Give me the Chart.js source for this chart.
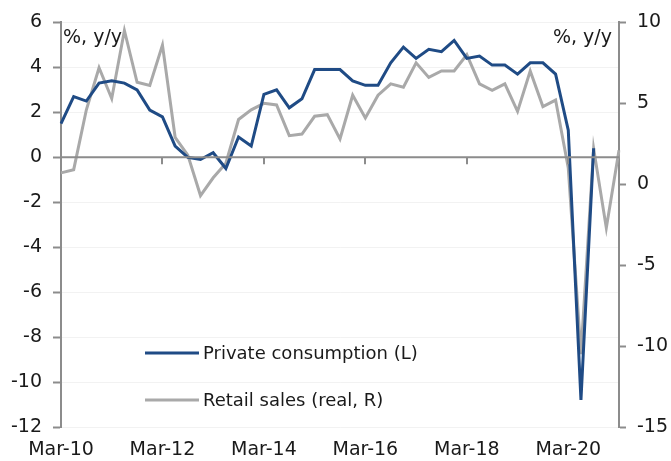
<!DOCTYPE html>
<html>
<head>
<meta charset="utf-8">
<script src="https://cdn.jsdelivr.net/npm/chart.js@4/dist/chart.umd.min.js"></script>
<style>
  html, body { margin: 0; padding: 0; background: #fff; }
  #wrap { width: 671px; height: 461px; }
</style>
</head>
<body>
<div id="wrap"><canvas id="myChart" width="671" height="461"></canvas></div>
<script>
// quarterly categories
var quarters = [
    'Mar-10', 'Jun-10', 'Sep-10', 'Dec-10', 'Mar-11', 'Jun-11', 'Sep-11', 'Dec-11',
    'Mar-12', 'Jun-12', 'Sep-12', 'Dec-12', 'Mar-13', 'Jun-13', 'Sep-13', 'Dec-13',
    'Mar-14', 'Jun-14', 'Sep-14', 'Dec-14', 'Mar-15', 'Jun-15', 'Sep-15', 'Dec-15',
    'Mar-16', 'Jun-16', 'Sep-16', 'Dec-16', 'Mar-17', 'Jun-17', 'Sep-17', 'Dec-17',
    'Mar-18', 'Jun-18', 'Sep-18', 'Dec-18', 'Mar-19', 'Jun-19', 'Sep-19', 'Dec-19',
    'Mar-20', 'Jun-20', 'Sep-20', 'Dec-20', 'Mar-21'
];
var shownTicks = ['Mar-10', 'Mar-12', 'Mar-14', 'Mar-16', 'Mar-18', 'Mar-20'];

// private consumption, % y/y (left axis)
var privateConsumption = [
    1.5, 2.7, 2.5, 3.3, 3.4, 3.3, 3.0, 2.1,
    1.8, 0.5, 0.0, -0.1, 0.2, -0.5, 0.9, 0.5,
    2.8, 3.0, 2.2, 2.6, 3.9, 3.9, 3.9, 3.4,
    3.2, 3.2, 4.2, 4.9, 4.4, 4.8, 4.7, 5.2,
    4.4, 4.5, 4.1, 4.1, 3.7, 4.2, 4.2, 3.7,
    1.2, -10.8, 0.4, null, null
];

// retail sales (real), % y/y (right axis)
var retailSales = [
    0.7, 0.9, 4.6, 7.2, 5.3, 9.5, 6.3, 6.1,
    8.6, 2.9, 1.8, -0.7, 0.4, 1.3, 4.0, 4.6,
    5.0, 4.9, 3.0, 3.1, 4.2, 4.3, 2.8, 5.5,
    4.1, 5.5, 6.2, 6.0, 7.5, 6.6, 7.0, 7.0,
    8.0, 6.2, 5.8, 6.2, 4.5, 7.0, 4.8, 5.2,
    1.0, -10.5, 2.2, -2.7, 2.1
];

var leftTicks = { min: -12, max: 6, step: 2 };
var rightTicks = { min: -15, max: 10, step: 5 };

var blue = '#1f4b85';
var grey = '#a9a9a9';
var axisGrey = '#8c8c8c';
var font = '"DejaVu Sans", sans-serif';

// zero line with the x tick marks, unit labels and the legend
var extras = {
    id: 'extras',
    afterDatasetsDraw: function (chart) {
        var ctx = chart.ctx;
        var area = chart.chartArea;
        var x = chart.scales.x;
        var y0 = chart.scales.y.getPixelForValue(0);

        ctx.save();
        ctx.strokeStyle = axisGrey;
        ctx.lineWidth = 2;
        ctx.beginPath();
        ctx.moveTo(area.left, y0);
        ctx.lineTo(area.right, y0);
        quarters.forEach(function (q, i) {
            if (i > 0 && shownTicks.indexOf(q) >= 0) {
                var px = Math.round(x.getPixelForValue(i));
                ctx.moveTo(px, y0);
                ctx.lineTo(px, y0 + 7);
            }
        });
        ctx.stroke();

        ctx.fillStyle = '#1a1a1a';
        ctx.font = '19px ' + font;
        ctx.textBaseline = 'middle';
        ctx.textAlign = 'left';
        ctx.fillText('%, y/y', area.left + 2, 38);
        ctx.textAlign = 'right';
        ctx.fillText('%, y/y', area.right - 7, 38);

        // legend
        ctx.font = '18px ' + font;
        chart.data.datasets.forEach(function (ds, i) {
            var ly = 353 + i * 47;
            ctx.strokeStyle = ds.borderColor;
            ctx.lineWidth = 3;
            ctx.beginPath();
            ctx.moveTo(145, ly);
            ctx.lineTo(199, ly);
            ctx.stroke();
            ctx.textAlign = 'left';
            ctx.fillText(ds.label, 203, ly + 1);
        });
        ctx.restore();
    }
};

var ctx = document.getElementById('myChart').getContext('2d');

var chart = new Chart(ctx, {
    type: 'line',
    data: {
        labels: quarters,
        datasets: [{
            label: 'Private consumption (L)',
            data: privateConsumption,
            yAxisID: 'y',
            borderColor: blue,
            borderWidth: 3,
            pointRadius: 0,
            tension: 0,
            spanGaps: false
        }, {
            label: 'Retail sales (real, R)',
            data: retailSales,
            yAxisID: 'y1',
            borderColor: grey,
            borderWidth: 3,
            pointRadius: 0,
            tension: 0
        }]
    },
    options: {
        responsive: false,
        animation: false,
        layout: { padding: { top: 19, left: 0, right: 0, bottom: 0 } },
        plugins: {
            legend: { display: false },
            tooltip: { enabled: false }
        },
        scales: {
            x: {
                type: 'category',
                offset: false,
                border: { display: false },
                grid: { display: false, drawTicks: false },
                ticks: {
                    autoSkip: false,
                    maxRotation: 0,
                    padding: 12,
                    color: '#1a1a1a',
                    font: { family: font, size: 19 },
                    callback: function (val, i) {
                        var lab = quarters[i];
                        return shownTicks.indexOf(lab) >= 0 ? lab : '';
                    }
                },
                afterFit: function (scale) { scale.height = 34; }
            },
            y: {
                position: 'left',
                min: leftTicks.min,
                max: leftTicks.max,
                border: { display: true, color: axisGrey, width: 2 },
                grid: {
                    color: 'rgba(0,0,0,0.05)',
                    tickColor: axisGrey,
                    tickLength: 8,
                    tickWidth: 2
                },
                ticks: {
                    stepSize: leftTicks.step,
                    padding: 11,
                    color: '#1a1a1a',
                    font: { family: font, size: 19 }
                },
                afterFit: function (scale) { scale.width = 61; }
            },
            y1: {
                position: 'right',
                min: rightTicks.min,
                max: rightTicks.max,
                border: { display: true, color: axisGrey, width: 2 },
                grid: {
                    drawOnChartArea: false,
                    tickColor: axisGrey,
                    tickLength: 7,
                    tickWidth: 2
                },
                ticks: {
                    stepSize: rightTicks.step,
                    padding: 11,
                    color: '#1a1a1a',
                    font: { family: font, size: 19 }
                },
                afterFit: function (scale) { scale.width = 52; }
            }
        }
    },
    plugins: [extras]
});
</script>
</body>
</html>
